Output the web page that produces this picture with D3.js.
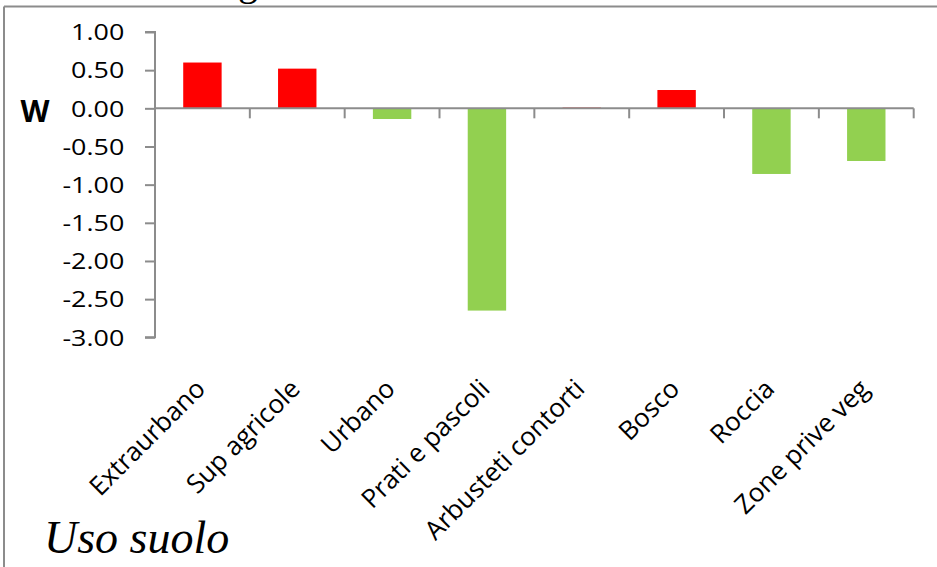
<!DOCTYPE html>
<html>
<head>
<meta charset="utf-8">
<script src="https://cdn.jsdelivr.net/npm/d3@7"></script>
<style>
  html, body { margin: 0; padding: 0; background: #fff; }
  svg { display: block; }
</style>
</head>
<body>
<svg id="chart" width="937" height="567"></svg>
<script>
// Land-use classes and their weight W
const categories = ["Extraurbano", "Sup agricole", "Urbano", "Prati e pascoli",
                    "Arbusteti contorti", "Bosco", "Roccia", "Zone prive veg"];
const weights = [0.60, 0.52, -0.14, -2.65, 0.01, 0.24, -0.86, -0.69];
const yTicks = [1.00, 0.50, 0.00, -0.50, -1.00, -1.50, -2.00, -2.50, -3.00];

const svg = d3.select("#chart");
const axisColor = "#8c8c8c";
const fmt = d => d3.format(".2f")(d).replace("\u2212", "-");

// outer frame of the chart area
svg.append("line").attr("x1", 4).attr("x2", 4).attr("y1", 6.5).attr("y2", 567)
  .attr("stroke", axisColor).attr("stroke-width", 2);
svg.append("line").attr("x1", 4).attr("x2", 937).attr("y1", 6.5).attr("y2", 6.5)
  .attr("stroke", axisColor).attr("stroke-width", 2);

// page text running above the frame
svg.append("text").attr("x", 248).attr("y", -5).attr("text-anchor", "middle")
  .attr("font-family", "Liberation Serif, Times New Roman, serif").attr("font-size", 40)
  .text("g");

const x = d3.scaleBand().domain(categories).range([155, 913.7])
  .paddingInner(0.595).paddingOuter(0.2975);
const y = d3.scaleLinear().domain([-3, 1]).range([337.3, 32]);

// bars
svg.append("g").selectAll("rect").data(categories).join("rect")
  .attr("x", d => x(d))
  .attr("width", x.bandwidth())
  .attr("y", (d, i) => y(Math.max(0, weights[i])))
  .attr("height", (d, i) => Math.abs(y(weights[i]) - y(0)))
  .attr("fill", (d, i) => weights[i] >= 0 ? "#ff0000" : "#92d050");

// y axis
const yAxis = svg.append("g").attr("transform", "translate(155,0)")
  .call(d3.axisLeft(y).tickValues(yTicks).tickSize(10).tickPadding(0).tickFormat(fmt));
yAxis.select(".domain").attr("stroke", axisColor).attr("stroke-width", 2)
  .attr("d", `M-10,${y(1)}H0V${y(-3)}H-10`);
yAxis.selectAll(".tick line").attr("stroke", axisColor).attr("stroke-width", 2);
yAxis.selectAll(".tick text").remove();
yAxis.selectAll(".tick").append("text")
  .attr("x", -24.6).attr("dy", "0.36em").attr("text-anchor", "end")
  .attr("fill", "#000")
  .attr("font-family", "Open Sans, sans-serif").attr("font-size", 21.5)
  .attr("transform", "scale(1.25,1)")
  .text(fmt);

// x axis at zero with ticks on category boundaries
const step = x.step();
const boundaries = d3.range(categories.length + 1).map(i => 155 + i * step);
const xAxis = svg.append("g");
xAxis.append("line").attr("x1", 155).attr("x2", 913.7).attr("y1", y(0)).attr("y2", y(0))
  .attr("stroke", axisColor).attr("stroke-width", 2);
xAxis.selectAll("line.tk").data(boundaries.slice(1)).join("line").attr("class", "tk")
  .attr("x1", d => d).attr("x2", d => d).attr("y1", y(0)).attr("y2", y(0) + 10)
  .attr("stroke", axisColor).attr("stroke-width", 2);

// rotated category labels
svg.append("g").selectAll("text").data(categories).join("text")
  .attr("transform", d => `translate(${x(d) + x.bandwidth() / 2 - 2},384) rotate(-45)`)
  .attr("text-anchor", "end").attr("dy", "0.35em")
  .attr("font-family", "Open Sans, sans-serif").attr("font-size", 26)
  .attr("fill", "#000")
  .text(d => d);

// axis titles
svg.append("text").attr("x", 35).attr("y", 122).attr("text-anchor", "middle")
  .attr("font-family", "Open Sans, sans-serif").attr("font-weight", "bold").attr("font-size", 30)
  .text("W");
svg.append("text").attr("x", 44).attr("y", 553)
  .attr("font-family", "Liberation Serif, Times New Roman, serif").attr("font-style", "italic")
  .attr("font-size", 46)
  .text("Uso suolo");
</script>
</body>
</html>
